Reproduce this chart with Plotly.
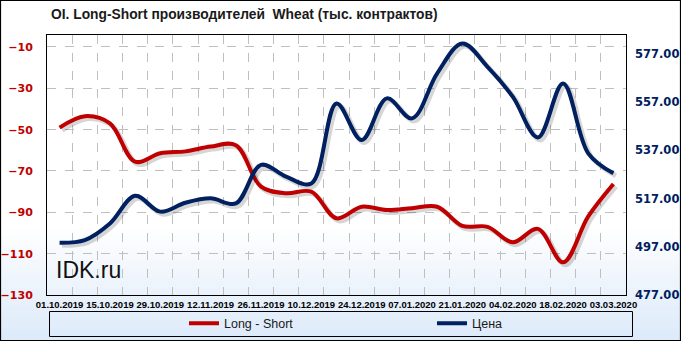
import plotly.graph_objects as go

dates = ["01.10.2019", "08.10.2019", "15.10.2019", "22.10.2019", "29.10.2019",
         "05.11.2019", "12.11.2019", "19.11.2019", "26.11.2019", "03.12.2019",
         "10.12.2019", "17.12.2019", "24.12.2019", "31.12.2019", "07.01.2020",
         "14.01.2020", "21.01.2020", "28.01.2020", "04.02.2020", "11.02.2020",
         "18.02.2020", "25.02.2020", "03.03.2020"]
long_short = [-49, -43.5, -47, -65.5, -61.4, -60.5, -58.2, -57.5, -77.6, -80.8,
              -80, -92.9, -87.3, -88.9, -88, -87.3, -96.6, -97, -104.5, -98,
              -114.2, -92, -76.3]
price = [498.7, 499.8, 506.7, 518.2, 511.6, 515.3, 517.1, 515, 531, 526.1,
         523.3, 556.5, 541.3, 558.6, 550.3, 569, 581.4, 571.7, 559.3, 542.4,
         564.8, 535.8, 527.5]
tick_labels = dates[::2]

W, H = 681, 341
L, R, T, B = 47, 626, 35, 295  # plot area in pixels
RED = "#C00000"
NAVY = "#002060"

def px_x(p):
    return (p - L) / (R - L)

def px_y(p):
    return (B - p) / (B - T)

x = list(range(len(dates)))
fig = go.Figure()

# soft shadows
sx = [v + 0.1 for v in x]
fig.add_trace(go.Scatter(x=sx, y=[v - 1.2 for v in long_short], mode="lines",
                         line=dict(color="rgba(0,0,0,0.16)", width=5, shape="spline"),
                         showlegend=False, hoverinfo="skip"))
fig.add_trace(go.Scatter(x=sx, y=[v - 1.05 for v in price], mode="lines", yaxis="y2",
                         line=dict(color="rgba(0,0,0,0.16)", width=5, shape="spline"),
                         showlegend=False, hoverinfo="skip"))

fig.add_trace(go.Scatter(x=x, y=long_short, name="Long - Short", mode="lines",
                         line=dict(color=RED, width=4, shape="spline")))
fig.add_trace(go.Scatter(x=x, y=price, name="Цена", mode="lines", yaxis="y2",
                         line=dict(color=NAVY, width=4, shape="spline")))

shapes = []
# vertical gradient background white -> light blue
g0, g1 = 228, 341
n = 38
for i in range(n):
    ya = g0 + (g1 - g0) * i / n
    yb = g0 + (g1 - g0) * (i + 1) / n + 0.6
    t = (i + 0.5) / n
    c = (int(255 - 35 * t), int(255 - 21 * t), int(255 - 5 * t))
    shapes.append(dict(type="rect", xref="paper", yref="paper", layer="below",
                       x0=px_x(0), x1=px_x(W), y0=px_y(yb), y1=px_y(ya),
                       fillcolor="rgb(%d,%d,%d)" % c, line=dict(width=0)))
# legend box
shapes.append(dict(type="rect", xref="paper", yref="paper",
                   x0=px_x(49.5), x1=px_x(632.5), y0=px_y(336.5), y1=px_y(311.5),
                   line=dict(color="black", width=1)))
# outer border
shapes.append(dict(type="rect", xref="paper", yref="paper",
                   x0=px_x(0.5), x1=px_x(W - 0.5), y0=px_y(H - 0.5), y1=px_y(0.5),
                   line=dict(color="black", width=1.2)))

fig.update_layout(
    width=W, height=H,
    margin=dict(l=L, r=W - R, t=T, b=H - B, pad=0, autoexpand=False),
    paper_bgcolor="white", plot_bgcolor="rgba(0,0,0,0)",
    showlegend=True,
    title=dict(text="<b>OI. Long-Short производителей  Wheat (тыс. контрактов)</b>",
               xref="container", yref="container", x=51 / W, xanchor="left",
               y=1 - 14 / H, yanchor="middle",
               font=dict(family="Liberation Sans", size=13.8, color="#1a1a1a")),
    xaxis=dict(range=[-0.5, len(dates) - 0.5], tickmode="array",
               tickvals=x[::2], ticktext=tick_labels, showgrid=False,
               ticks="", ticklabelstandoff=1,
               tickfont=dict(family="Liberation Sans", size=9.5, color="black", weight="bold"),
               showline=True, linecolor="black", linewidth=1, mirror=True, zeroline=False,
               minor=dict(tickmode="array", tickvals=[i + 0.5 for i in x[:-1]],
                          showgrid=True, gridcolor="#BFBFBF", griddash="dash",
                          gridwidth=1, ticks="")),
    yaxis=dict(range=[-130, -4.2], tick0=-130, dtick=20, showgrid=True,
               gridcolor="#BFBFBF", griddash="dash", gridwidth=1, zeroline=False,
               ticks="", ticklabelstandoff=11,
               tickfont=dict(family="DejaVu Sans", size=11, color=RED, weight="bold"),
               showline=True, linecolor="black", linewidth=1, mirror=True),
    yaxis2=dict(range=[477, 584.9], tick0=477, dtick=20, tickformat=".2f",
                overlaying="y", side="right", showgrid=False, zeroline=False,
                ticks="", ticklabelstandoff=8,
                tickfont=dict(family="DejaVu Sans", size=11.5, color=NAVY, weight="bold"),
                showline=False),
    legend=dict(orientation="h", xref="container", yref="container",
                x=184 / W, xanchor="left", y=1 - 323.5 / H, yanchor="middle",
                entrywidth=203, entrywidthmode="pixels",
                bgcolor="rgba(0,0,0,0)", borderwidth=0,
                font=dict(family="Liberation Sans", size=12.5, color="#1a1a1a"),
                itemwidth=30),
    shapes=shapes,
    annotations=[dict(text="IDK.ru", xref="paper", yref="paper",
                      x=px_x(54), y=px_y(270), xanchor="left", yanchor="middle",
                      showarrow=False,
                      font=dict(family="Liberation Sans", size=23, color="#111111"))],
)

fig.write_html("out.html")
